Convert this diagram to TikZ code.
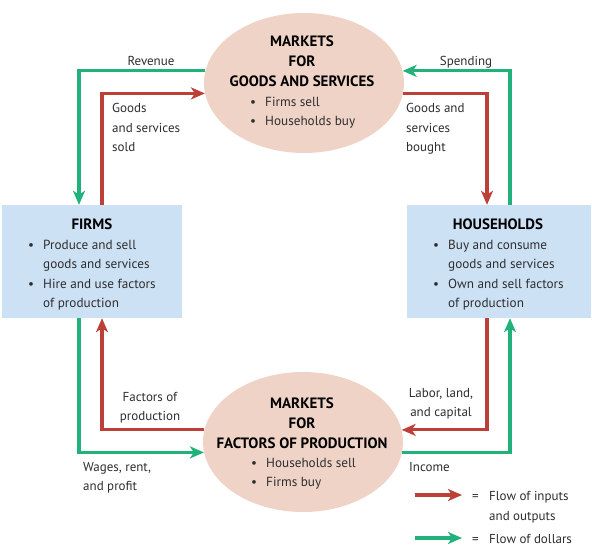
\documentclass[tikz,border=0pt]{standalone}
\usepackage{fontspec}
\setmainfont{PT Sans}
\usetikzlibrary{shapes.geometric,arrows.meta}
\definecolor{ellfill}{HTML}{EFD3C7}
\definecolor{boxfill}{HTML}{CDE1F5}
\definecolor{flowred}{HTML}{BC4038}
\definecolor{flowgreen}{HTML}{20B27A}
\definecolor{txt}{HTML}{2E2E2E}
\newcommand{\bul}{\makebox[15pt][l]{\textbullet}}
\newcommand{\nob}{\hspace*{15pt}}
\begin{document}
\begin{tikzpicture}[x=1pt,y=-1pt,
  market/.style={ellipse, fill=ellfill, minimum width=200pt, minimum height=140pt, inner sep=0pt},
  agent/.style={rectangle, fill=boxfill, inner sep=0pt},
  flow/.style={line width=3.2pt, -{Stealth[length=14pt,width=12pt,inset=4pt]}},
  rflow/.style={flow, draw=flowred},
  gflow/.style={flow, draw=flowgreen},
  lbl/.style={font=\fontsize{13}{19.4}\selectfont, text=txt, inner sep=0pt},
  head/.style={font=\fontsize{15}{19.6}\bfseries\selectfont, text=black, inner sep=0pt, anchor=base},
  blist/.style={font=\fontsize{13.2}{19.6}\selectfont, text=txt, inner sep=0pt, anchor=base west}
]
\useasboundingbox (0,0) rectangle (592,552);
\fill[white] (0,0) rectangle (592,552);

% shapes
\node[market] (gm) at (304,83) {};
\node[market] (fm) at (303,442) {};
\node[agent, minimum width=180pt, minimum height=113pt] (firms) at (92,261.5) {};
\node[agent, minimum width=184pt, minimum height=113pt] (hh) at (499,261.5) {};

% top market text
\node[head] (gm1) at (302,46.5) {MARKETS};
\node[head] (gm2) at (302,66) {FOR};
\node[head] (gm3) at (302,86) {GOODS AND SERVICES};
\node[blist] (gm4) at (250,106) {\begin{tabular}[t]{@{}l@{}}\bul Firms sell\\\bul Households buy\end{tabular}};

% bottom market text
\node[head] (fm1) at (302,408) {MARKETS};
\node[head] (fm2) at (302,428) {FOR};
\node[head] (fm3) at (302,448) {FACTORS OF PRODUCTION};
\node[blist] (fm4) at (251,467) {\begin{tabular}[t]{@{}l@{}}\bul Households sell\\\bul Firms buy\end{tabular}};

% firms text
\node[head] (f1) at (92,229) {FIRMS};
\node[blist] (f2) at (28,249) {\begin{tabular}[t]{@{}l@{}}\bul Produce and sell\\\nob goods and services\\\bul Hire and use factors\\\nob of production\end{tabular}};

% households text
\node[head] (h1) at (498,229) {HOUSEHOLDS};
\node[blist] (h2) at (433,249) {\begin{tabular}[t]{@{}l@{}}\bul Buy and consume\\\nob goods and services\\\bul Own and sell factors\\\nob of production\end{tabular}};

% flows
\draw[gflow] (gm.173) -| ([xshift=-13pt]firms.north);
\draw[rflow] ([xshift=10pt]firms.north) |- (gm.186);
\draw[rflow] (gm.354) -| ([xshift=-12pt]hh.north);
\draw[gflow] ([xshift=11pt]hh.north) |- (gm.7);
\draw[rflow] (fm.173) -| ([xshift=10pt]firms.south);
\draw[gflow] ([xshift=-13pt]firms.south) |- (fm.186);
\draw[rflow] ([xshift=-12pt]hh.south) |- (fm.7);
\draw[gflow] (fm.354) -| ([xshift=11pt]hh.south);

% flow labels
\node[lbl, anchor=base] (l1) at (151,65.5) {Revenue};
\node[lbl, anchor=base west] (l2) at (112,112.7) {\begin{tabular}[t]{@{}l@{}}Goods\\and services\\sold\end{tabular}};
\node[lbl, anchor=base] (l3) at (466,65.5) {Spending};
\node[lbl, anchor=base west] (l4) at (406,112.7) {\begin{tabular}[t]{@{}l@{}}Goods and\\services\\bought\end{tabular}};
\node[lbl, anchor=base] (l5) at (150,401.5) {\begin{tabular}[t]{@{}c@{}}Factors of\\production\end{tabular}};
\node[lbl, anchor=base west] (l6) at (83,471.5) {\begin{tabular}[t]{@{}l@{}}Wages, rent,\\and profit\end{tabular}};
\node[lbl, anchor=base] (l7) at (441,397) {\begin{tabular}[t]{@{}c@{}}Labor, land,\\and capital\end{tabular}};
\node[lbl, anchor=base west] (l8) at (409,471.5) {Income};

% legend
\coordinate (lr1) at (415,495);
\coordinate (lr2) at (462,495);
\coordinate (lg1) at (415,538);
\coordinate (lg2) at (462,538);
\draw[rflow] (lr1) -- (lr2);
\draw[gflow] (lg1) -- (lg2);
\node[lbl, anchor=base west] (e1) at (472,500.7) {=};
\node[lbl, anchor=base west] (e2) at (489,500.7) {\begin{tabular}[t]{@{}l@{}}Flow of inputs\\and outputs\end{tabular}};
\node[lbl, anchor=base west] (e3) at (472,543.3) {=};
\node[lbl, anchor=base west] (e4) at (489,543.3) {Flow of dollars};
\end{tikzpicture}
\end{document}
